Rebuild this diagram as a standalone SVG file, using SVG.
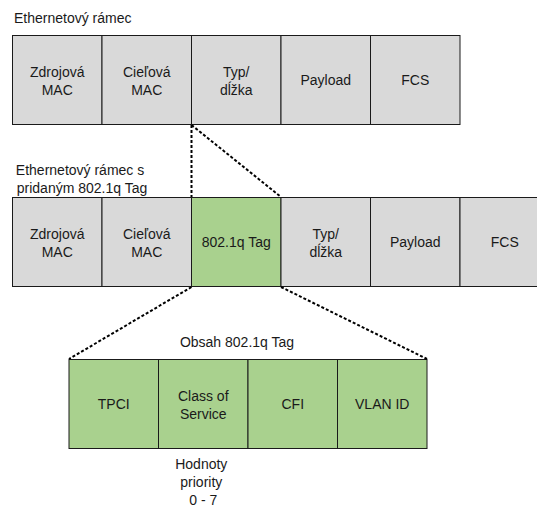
<svg xmlns="http://www.w3.org/2000/svg" width="537" height="508" viewBox="0 0 537 508">
  <style>
    text { font-family: "Liberation Sans", Arial, sans-serif; font-size: 14px; fill: #1a1a1a; }
    .c { text-anchor: middle; }
    .gray { fill: #d9d9d9; stroke: #1a1a1a; stroke-width: 1; }
    .green { fill: #a9d18e; stroke: #1a1a1a; stroke-width: 1; }
    .dash { fill: none; stroke: #000; stroke-width: 2; stroke-dasharray: 3 2; }
  </style>
  <rect width="537" height="508" fill="#ffffff"/>

  <!-- frame 1: plain Ethernet frame -->
  <text id="title-frame" x="14" y="23">Ethernetový rámec</text>
  <g id="f1-src">
    <rect class="gray" x="12.5" y="35.5" width="89.5" height="89"/>
    <text class="c" x="57.25" y="76.5">Zdrojová</text>
    <text class="c" x="57.25" y="95">MAC</text>
  </g>
  <g id="f1-dst">
    <rect class="gray" x="102" y="35.5" width="89.5" height="89"/>
    <text class="c" x="146.75" y="76.5">Cieľová</text>
    <text class="c" x="146.75" y="95">MAC</text>
  </g>
  <g id="f1-type">
    <rect class="gray" x="191.5" y="35.5" width="89.5" height="89"/>
    <text class="c" x="236.25" y="76.5">Typ/</text>
    <text class="c" x="236.25" y="95">dĺžka</text>
  </g>
  <g id="f1-payload">
    <rect class="gray" x="281" y="35.5" width="89.5" height="89"/>
    <text class="c" x="325.75" y="85">Payload</text>
  </g>
  <g id="f1-fcs">
    <rect class="gray" x="370.5" y="35.5" width="89.5" height="89"/>
    <text class="c" x="415.25" y="85">FCS</text>
  </g>

  <!-- frame 2: Ethernet frame with 802.1q tag -->
  <text id="title-tagged" class="c" x="82">
    <tspan x="82" y="175">Ethernetový rámec s</tspan>
    <tspan x="82" y="193">pridaným 802.1q Tag</tspan>
  </text>
  <g id="f2-src">
    <rect class="gray" x="12.5" y="197.5" width="89.5" height="89"/>
    <text class="c" x="57.25" y="238.5">Zdrojová</text>
    <text class="c" x="57.25" y="257">MAC</text>
  </g>
  <g id="f2-dst">
    <rect class="gray" x="102" y="197.5" width="89.5" height="89"/>
    <text class="c" x="146.75" y="238.5">Cieľová</text>
    <text class="c" x="146.75" y="257">MAC</text>
  </g>
  <g id="f2-tag">
    <rect class="green" x="191.5" y="197.5" width="89.5" height="89"/>
    <text class="c" x="236.25" y="247">802.1q Tag</text>
  </g>
  <g id="f2-type">
    <rect class="gray" x="281" y="197.5" width="89.5" height="89"/>
    <text class="c" x="325.75" y="238.5">Typ/</text>
    <text class="c" x="325.75" y="257">dĺžka</text>
  </g>
  <g id="f2-payload">
    <rect class="gray" x="370.5" y="197.5" width="89.5" height="89"/>
    <text class="c" x="415.25" y="247">Payload</text>
  </g>
  <g id="f2-fcs">
    <rect class="gray" x="460" y="197.5" width="89.5" height="89"/>
    <text class="c" x="504.75" y="247">FCS</text>
  </g>

  <!-- tag contents -->
  <text id="title-tag" class="c" x="237" y="347">Obsah 802.1q Tag</text>
  <g id="t-tpci">
    <rect class="green" x="69" y="359.5" width="89.5" height="89"/>
    <text class="c" x="113.75" y="409">TPCI</text>
  </g>
  <g id="t-cos">
    <rect class="green" x="158.5" y="359.5" width="89.5" height="89"/>
    <text class="c" x="203.25" y="400.5">Class of</text>
    <text class="c" x="203.25" y="419">Service</text>
  </g>
  <g id="t-cfi">
    <rect class="green" x="248" y="359.5" width="89.5" height="89"/>
    <text class="c" x="292.75" y="409">CFI</text>
  </g>
  <g id="t-vlan">
    <rect class="green" x="337.5" y="359.5" width="89.5" height="89"/>
    <text class="c" x="382.25" y="409">VLAN ID</text>
  </g>
  <text id="note-priority" class="c" x="203.25">
    <tspan x="203.25" y="469">Hodnoty</tspan>
    <tspan x="203.25" y="487">priority</tspan>
    <tspan x="203.25" y="505">0 - 7</tspan>
  </text>

  <!-- dotted expansion lines -->
  <g id="connectors">
    <line class="dash" x1="191.5" y1="125" x2="191.5" y2="197"/>
    <line class="dash" x1="191.5" y1="125" x2="281" y2="197"/>
    <line class="dash" x1="191.5" y1="287" x2="69" y2="359"/>
    <line class="dash" x1="281" y1="287" x2="427" y2="359"/>
  </g>
</svg>
